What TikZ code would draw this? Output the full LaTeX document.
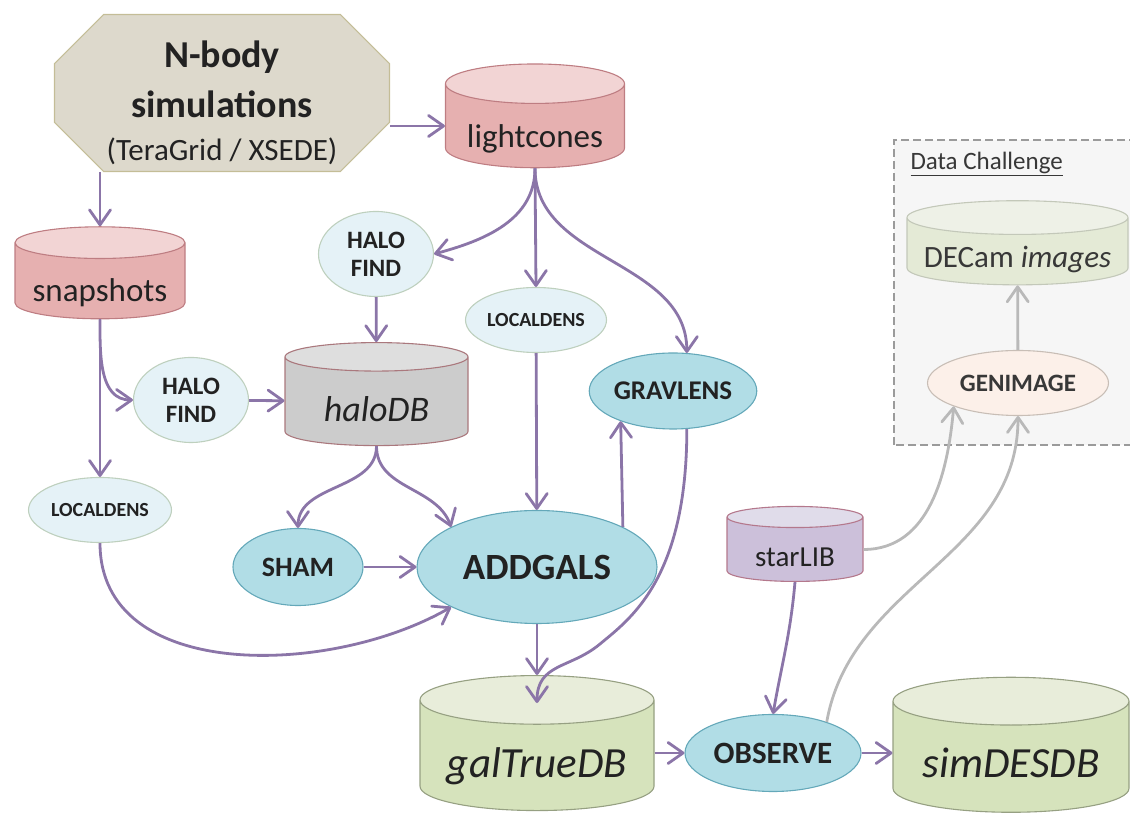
\documentclass[tikz,border=0pt]{standalone}
\usepackage{fontspec}
\setmainfont{Carlito}
\usetikzlibrary{positioning, shapes.geometric, shapes.misc, arrows.meta, calc}
\definecolor{ink}{RGB}{34,34,34}
\definecolor{flowline}{RGB}{139,117,168}
\definecolor{greyline}{RGB}{185,185,185}
\definecolor{simfill}{RGB}{221,217,204}
\definecolor{simdraw}{RGB}{196,189,151}
\definecolor{redbody}{RGB}{230,176,176}
\definecolor{redtop}{RGB}{242,212,212}
\definecolor{reddraw}{RGB}{190,125,130}
\definecolor{greybody}{RGB}{204,204,204}
\definecolor{greytop}{RGB}{222,222,222}
\definecolor{greydraw}{RGB}{170,120,125}
\definecolor{greenbody}{RGB}{214,227,188}
\definecolor{greentop}{RGB}{232,237,218}
\definecolor{greendraw}{RGB}{150,160,130}
\definecolor{lilacbody}{RGB}{204,192,218}
\definecolor{lilactop}{RGB}{224,220,234}
\definecolor{lilacdraw}{RGB}{180,120,140}
\definecolor{paleboddy}{RGB}{228,234,214}
\definecolor{paletop}{RGB}{238,241,231}
\definecolor{paledraw}{RGB}{195,200,185}
\definecolor{icefill}{RGB}{229,242,247}
\definecolor{icedraw}{RGB}{190,208,190}
\definecolor{tealfill}{RGB}{177,221,230}
\definecolor{tealdraw}{RGB}{100,168,185}
\definecolor{peachfill}{RGB}{252,240,233}
\definecolor{peachdraw}{RGB}{200,190,182}
\definecolor{boxfill}{RGB}{246,246,246}
\definecolor{boxdraw}{RGB}{155,155,155}
\tikzstyle{db}   = [cylinder, shape border rotate=90, draw, line width=1.1pt,
                    inner sep=0pt, cylinder uses custom fill, text=ink]
\tikzstyle{proc} = [ellipse, draw, line width=1.1pt, inner sep=0pt, align=center, text=ink]
\tikzstyle{flow} = [-{Straight Barb[length=15pt, width=21pt, round]}, line width=2.8pt, draw=flowline]

\begin{document}
\begin{tikzpicture}[x=1pt, y=1pt,
  redb/.style={db, draw=reddraw, cylinder body fill=redbody, cylinder end fill=redtop},
  greyb/.style={db, draw=greydraw, cylinder body fill=greybody, cylinder end fill=greytop},
  greenb/.style={db, draw=greendraw, cylinder body fill=greenbody, cylinder end fill=greentop},
  lilacb/.style={db, draw=lilacdraw, cylinder body fill=lilacbody, cylinder end fill=lilactop},
  paleb/.style={db, draw=paledraw, cylinder body fill=paleboddy, cylinder end fill=paletop},
  tbase/.style={text height=#1, text depth=0pt},
  ice/.style={proc, draw=icedraw, fill=icefill},
  teal/.style={proc, draw=tealdraw, fill=tealfill},
  peach/.style={proc, draw=peachdraw, fill=peachfill},
  gflow/.style={flow, draw=greyline}]
\useasboundingbox (0,0) rectangle (1130,816);
\clip (0,0) rectangle (1130,816);

% data challenge frame
\draw[boxdraw, fill=boxfill, line width=1.8pt, dash pattern=on 8pt off 4pt] (894,371) rectangle (1140,676);
\node[anchor=base west, text=ink!90, font=\fontsize{25}{25}\selectfont] (dctitle) at (907,646) {\underline{Data Challenge}};

% simulation source
\node[chamfered rectangle, chamfered rectangle xsep=46pt, draw=simdraw, fill=simfill, line width=1.1pt,
      minimum width=335pt, minimum height=157pt, inner sep=0pt, align=center, text=ink,
      font=\fontsize{38}{50}\selectfont] (nbody) at (222,723)
  {\rule{0pt}{46pt}\bfseries N-body\\ \bfseries simulations\\[-7pt] \fontsize{31}{31}\selectfont (TeraGrid / XSEDE)};

% databases
\node[redb, minimum width=179pt, minimum height=103pt, aspect=0.29, tbase=44pt, font=\fontsize{33}{33}\selectfont] (light) at (535,690) {lightcones};
\node[redb, minimum width=170pt, minimum height=92pt, aspect=0.235, tbase=42pt, font=\fontsize{33}{33}\selectfont] (snap) at (100,535) {snapshots};
\node[greyb, minimum width=183pt, minimum height=103pt, aspect=0.27, tbase=41pt, font=\fontsize{36}{36}\selectfont\itshape] (halodb) at (376.5,414.5) {haloDB};
\node[greenb, minimum width=234pt, minimum height=135pt, aspect=0.27, tbase=45pt, font=\fontsize{43}{43}\selectfont\itshape] (galtrue) at (537,60.5) {galTrueDB};
\node[greenb, minimum width=236pt, minimum height=135pt, aspect=0.27, tbase=42pt, font=\fontsize{43}{43}\selectfont\itshape] (simdes) at (1011,59) {simDESDB};
\node[lilacb, minimum width=136pt, minimum height=75pt, aspect=0.265, tbase=35pt, font=\fontsize{29}{29}\selectfont] (starlib) at (795,266.5) {starLIB};
\node[paleb, minimum width=221pt, minimum height=83pt, aspect=0.18, tbase=33pt, text=ink!90, font=\fontsize{31}{31}\selectfont] (decam) at (1017.5,564.5) {DECam \textit{images}};

% processing steps
\node[ice, minimum width=115pt, minimum height=85pt, font=\fontsize{25}{28}\selectfont\bfseries] (halo1) at (376,562) {HALO\\FIND};
\node[ice, minimum width=115pt, minimum height=85pt, font=\fontsize{25}{28}\selectfont\bfseries] (halo2) at (191,416) {HALO\\FIND};
\node[ice, minimum width=143pt, minimum height=65pt, font=\fontsize{20}{20}\selectfont\bfseries] (ldens1) at (100,306) {LOCALDENS};
\node[ice, minimum width=141pt, minimum height=65pt, font=\fontsize{20}{20}\selectfont\bfseries] (ldens2) at (536,496) {LOCALDENS};
\node[teal, minimum width=152pt, minimum height=76pt, font=\fontsize{27}{27}\selectfont\bfseries] (grav) at (673,425) {GRAVLENS};
\node[teal, minimum width=240pt, minimum height=113pt, font=\fontsize{37}{37}\selectfont\bfseries] (addgals) at (537,249) {ADDGALS};
\node[teal, minimum width=130pt, minimum height=77pt, font=\fontsize{28}{28}\selectfont\bfseries] (sham) at (298,249) {SHAM};
\node[teal, minimum width=176pt, minimum height=77pt, font=\fontsize{31}{31}\selectfont\bfseries] (observe) at (773,63) {OBSERVE};
\node[peach, minimum width=181pt, minimum height=65pt, text=ink!90, font=\fontsize{25}{25}\selectfont\bfseries] (genimage) at (1018,433) {GENIMAGE};

% pipeline
\draw[flow] (nbody.east |- light.west) -- (light.west);
\draw[flow] (nbody.south -| snap.north) -- (snap.north);
\draw[flow] (light.south) to[out=-90, in=15] (halo1.east);
\draw[flow] (light.south) -- (ldens2.north);
\draw[flow] (light.south) to[out=-90, in=90] (grav.70);
\draw[flow] (snap.south) to[out=-90, in=180] (halo2.west);
\draw[flow] (snap.south) -- (ldens1.north);
\draw[flow] (halo2) -- (halodb);
\draw[flow] (halo1) -- (halodb);
\draw[flow] (halodb.south) to[out=-90, in=90] (sham.north);
\draw[flow] (halodb.south) to[out=-90, in=110] (addgals.155);
\draw[flow] (ldens1.south) to[out=-90, in=210] (addgals.205);
\draw[flow] (sham) -- (addgals);
\draw[flow] (ldens2) -- (addgals);
\draw[flow] (addgals.25) -- (grav.210);
\draw[flow] (addgals.south) -- (galtrue.north);
\draw[flow] (grav.-70) .. controls +(0,-150) and +(30,25) .. (600,172)
                      .. controls +(-30,-25) and +(0,40) .. ($(galtrue.north)+(0,-28)$);
\draw[flow] (galtrue.east |- observe.west) -- (observe.west);
\draw[flow] (observe.east) -- (observe.east -| simdes.west);
\draw[flow] (starlib.south) to[out=-95, in=80] (observe.north);

% image generation
\draw[gflow] (starlib.east) to[out=0, in=-95] (genimage.200);
\draw[gflow] (observe.30) to[out=80, in=-90] (genimage.south);
\draw[gflow] (genimage) -- (decam);
\end{tikzpicture}
\end{document}
